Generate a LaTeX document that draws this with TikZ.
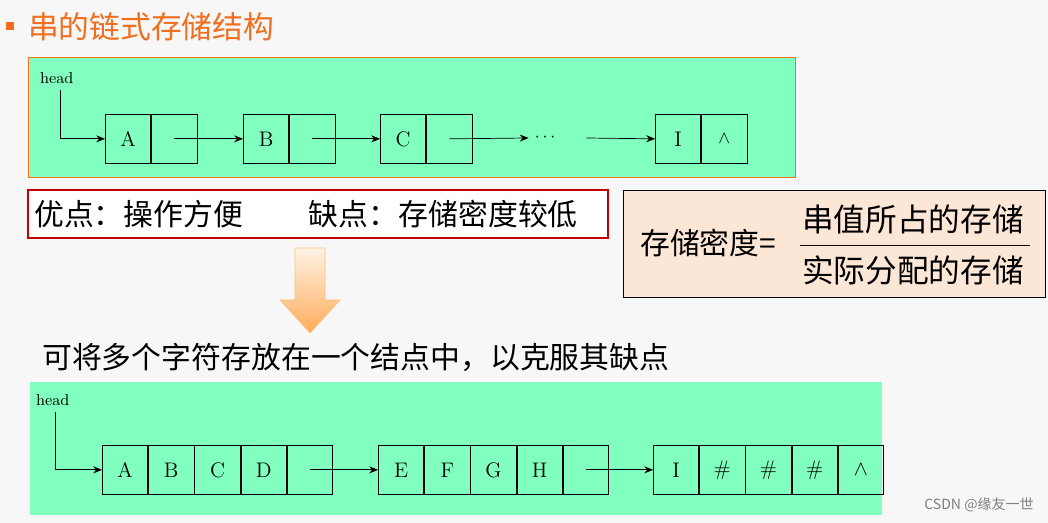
\documentclass[tikz,border=0pt]{standalone}
\usepackage{fontspec}
\newfontfamily\cjk{Noto Sans CJK SC}
\usetikzlibrary{arrows.meta,positioning,calc}
\definecolor{mint}{RGB}{128,255,190}
\definecolor{titleorange}{RGB}{240,110,30}
\definecolor{peach}{RGB}{252,230,214}
\begin{document}
\begin{tikzpicture}[x=0.02cm,y=-0.02cm,
    cell/.style={draw,minimum width=0.91cm,minimum height=0.98cm,inner sep=0pt,font=\fontsize{12}{12}\selectfont},
    lnk/.style={-{Stealth[length=5pt,width=4pt]},thin},
    cn/.style={font=\cjk\fontsize{17}{19}\selectfont}]
    \useasboundingbox[fill=gray!6] (0,0) rectangle (1048,523);

    \fill[titleorange] (6,22) rectangle (14,30);
    \node[anchor=west,font=\cjk\fontsize{17.5}{19}\selectfont,text=titleorange] (title) at (22,27) {串的链式存储结构};

    % first chain
    \draw[titleorange,fill=mint] (28,57) rectangle (795,177);
    \node[anchor=west,font=\fontsize{9}{9}\selectfont,inner sep=1pt] (h1) at (38,78) {head};
    \foreach \n/\x/\t in {a/105/A,b/243/B,c/380/C,i/655/I}{
        \node[cell,anchor=north west] (\n1) at (\x,114) {\t};
        \node[cell,right=0pt of \n1] (\n2) {};
    }
    \node[font=\fontsize{10}{10}\selectfont] at (i2) {$\wedge$};
    \node (dots) at (545,138) {$\cdots$};
    \coordinate (s1) at (60,90);
    \draw[lnk] (s1) |- (a1.west);
    \draw[lnk] (a2.center) -- (b1.west);
    \draw[lnk] (b2.center) -- (c1.west);
    \draw[lnk] (c2.center) -- (dots.west);
    \draw[lnk] (dots.east) ++(25,0) -- (i1.west);

    % pros and cons
    \draw[red!75!black,fill=white,thick] (28,190) rectangle (608,238);
    \node[cn,anchor=west] (pros) at (28,214) {优点：操作方便\hspace{2.2em}缺点：存储密度较低};

    \draw[fill=peach] (623,190) rectangle (1045,297);
    \node[cn,anchor=west] (dens) at (634,243) {存储密度=};
    \node[cn,font=\cjk\fontsize{18}{20}\selectfont] (num) at (913,219) {串值所占的存储};
    \node[cn,font=\cjk\fontsize{18}{20}\selectfont] (den) at (913,270) {实际分配的存储};
    \draw (800,245) -- (1030,245);

    \shade[top color=orange!10,bottom color=orange!65,draw=orange!50]
        (295,248) -- (325,248) -- (325,300) -- (340,300) -- (310,333)
        -- (280,300) -- (295,300) -- cycle;

    \node[cn,anchor=west] (idea) at (36,357) {可将多个字符存放在一个结点中，以克服其缺点};

    % second chain
    \fill[mint] (30,382) rectangle (882,515);
    \node[anchor=west,font=\fontsize{9}{9}\selectfont,inner sep=1pt] (h2) at (34,400) {head};
    \node[cell,anchor=north west] (p1) at (102,445) {A};
    \foreach \t [count=\k from 2, evaluate=\k as \j using int(\k-1)] in {B,C,D,{}}
        \node[cell,right=0pt of p\j] (p\k) {\t};
    \node[cell,anchor=north west] (q1) at (378,445) {E};
    \foreach \t [count=\k from 2, evaluate=\k as \j using int(\k-1)] in {F,G,H,{}}
        \node[cell,right=0pt of q\j] (q\k) {\t};
    \node[cell,anchor=north west] (r1) at (653,445) {I};
    \foreach \t [count=\k from 2, evaluate=\k as \j using int(\k-1)] in {\#,\#,\#,$\wedge$}
        \node[cell,right=0pt of r\j] (r\k) {\t};
    \coordinate (s2) at (55,412);
    \draw[lnk] (s2) |- (p1.west);
    \draw[lnk] (p5.center) -- (q1.west);
    \draw[lnk] (q5.center) -- (r1.west);

    \node[anchor=east,text=gray,font=\cjk\fontsize{8}{8}\selectfont] (mark) at (1040,505) {CSDN @缘友一世};
\end{tikzpicture}
\end{document}
